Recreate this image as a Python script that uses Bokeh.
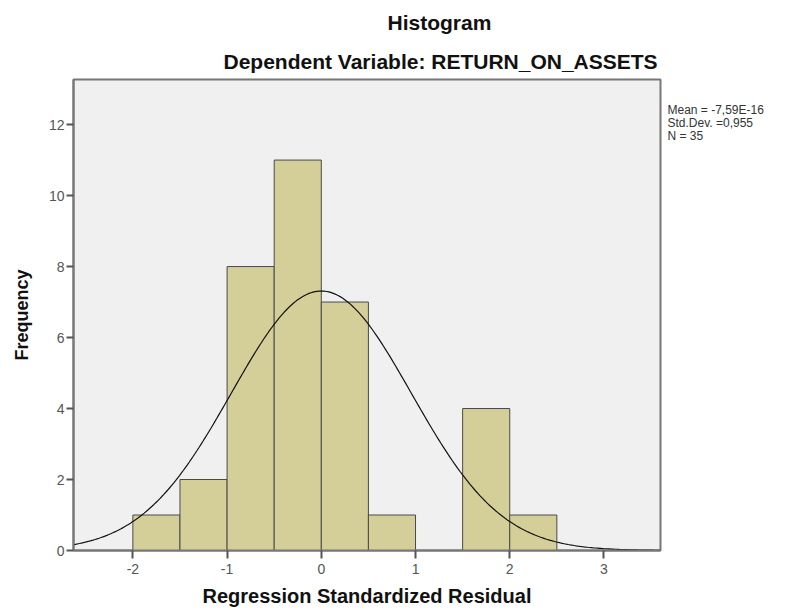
import numpy as np
from bokeh.plotting import figure
from bokeh.models import Range1d, FixedTicker, Title
from bokeh.layouts import row
from bokeh.core.properties import value
from bokeh.embed import file_html
from bokeh.resources import INLINE

# Data
bin_left = [-2.0, -1.5, -1.0, -0.5, 0.0, 0.5, 1.0, 1.5, 2.0]
bin_right = [-1.5, -1.0, -0.5, 0.0, 0.5, 1.0, 1.5, 2.0, 2.5]
counts = [1, 2, 8, 11, 7, 1, 0, 4, 1]
mean_val = -7.59e-16
sd_val = 0.955
n_val = 35
bin_width = 0.5
x_ticks = [-2, -1, 0, 1, 2, 3]
y_ticks = [0, 2, 4, 6, 8, 10, 12]
stats_lines = ["Mean = -7,59E-16", "Std.Dev. =0,955", "N = 35"]

FONT = "Liberation Sans"
H = 609

yr = Range1d(0, 13.27)
p = figure(width=662, height=H, output_backend="svg", toolbar_location=None,
           x_range=Range1d(-2.63, 3.6), y_range=yr,
           min_border_left=73, min_border_right=2, min_border_top=79, min_border_bottom=44)
p.background_fill_color = "#f0f0f0"
p.border_fill_color = "white"
p.outline_line_color = "#777777"
p.outline_line_width = 2
p.grid.visible = False

p.quad(left=bin_left, right=bin_right, bottom=0, top=counts,
       fill_color="#d4cf98", line_color="#4a4a4a", line_width=1)

xs = np.linspace(-2.63, 3.6, 300)
ys = n_val * bin_width / (sd_val * np.sqrt(2 * np.pi)) * np.exp(-0.5 * ((xs - mean_val) / sd_val) ** 2)
p.line(xs, ys, line_color="#111111", line_width=1.2)

for ax in (p.xaxis, p.yaxis):
    ax.axis_line_color = "#777777"
    ax.axis_line_width = 2
    ax.major_tick_line_color = "#555555"
    ax.major_tick_line_width = 2
    ax.major_tick_in = 0
    ax.minor_tick_line_color = None
    ax.major_label_text_font = FONT
    ax.major_label_text_font_size = "14px"
    ax.major_label_text_color = "#555555"
    ax.axis_label_text_font = FONT
    ax.axis_label_text_font_style = "bold"
    ax.axis_label_text_color = "#111111"

p.xaxis.ticker = FixedTicker(ticks=x_ticks)
p.yaxis.ticker = FixedTicker(ticks=y_ticks)
p.xaxis.major_label_overrides = {-2: "-2", -1: "-1"}
p.xaxis.axis_label = "Regression Standardized Residual"
p.yaxis.axis_label = "Frequency"
p.xaxis.axis_label_text_font_size = "20px"
p.yaxis.axis_label_text_font_size = "18px"
p.xaxis.major_tick_out = 8
p.yaxis.major_tick_out = 7
p.xaxis.major_label_standoff = 5
p.xaxis.axis_label_standoff = 8
p.yaxis.major_label_standoff = 2
p.yaxis.axis_label_standoff = 14

# titles (subtitle added first so it sits nearer the frame)
p.add_layout(Title(text="Dependent Variable: RETURN_ON_ASSETS", text_font=FONT,
                   text_font_style="bold", text_font_size="21px", text_color="#111111",
                   align="left", offset=150, standoff=14), "above")
p.add_layout(Title(text="Histogram", text_font=FONT, text_font_style="bold",
                   text_font_size="21px", text_color="#111111",
                   align="left", offset=314, standoff=14), "above")

# statistics text to the right of the frame (frame aligned with the main plot)
side = figure(width=116, height=H, output_backend="svg", toolbar_location=None,
              x_range=Range1d(0, 116), y_range=yr,
              min_border=0, min_border_left=0, min_border_right=0,
              min_border_top=79, min_border_bottom=44)
side.axis.visible = False
side.grid.visible = False
side.outline_line_color = None
side.background_fill_color = "white"
side.border_fill_color = "white"
stat_x = [5, 5, 5]
stat_y = [12.40, 12.04, 11.69]
side.text(x=stat_x, y=stat_y, text=stats_lines, text_font=value(FONT),
          text_font_size="12px", text_color="#333333", text_baseline="middle",
          text_align="left")

layout = row(p, side, spacing=0)
open("out.html", "w").write(file_html(layout, INLINE))
